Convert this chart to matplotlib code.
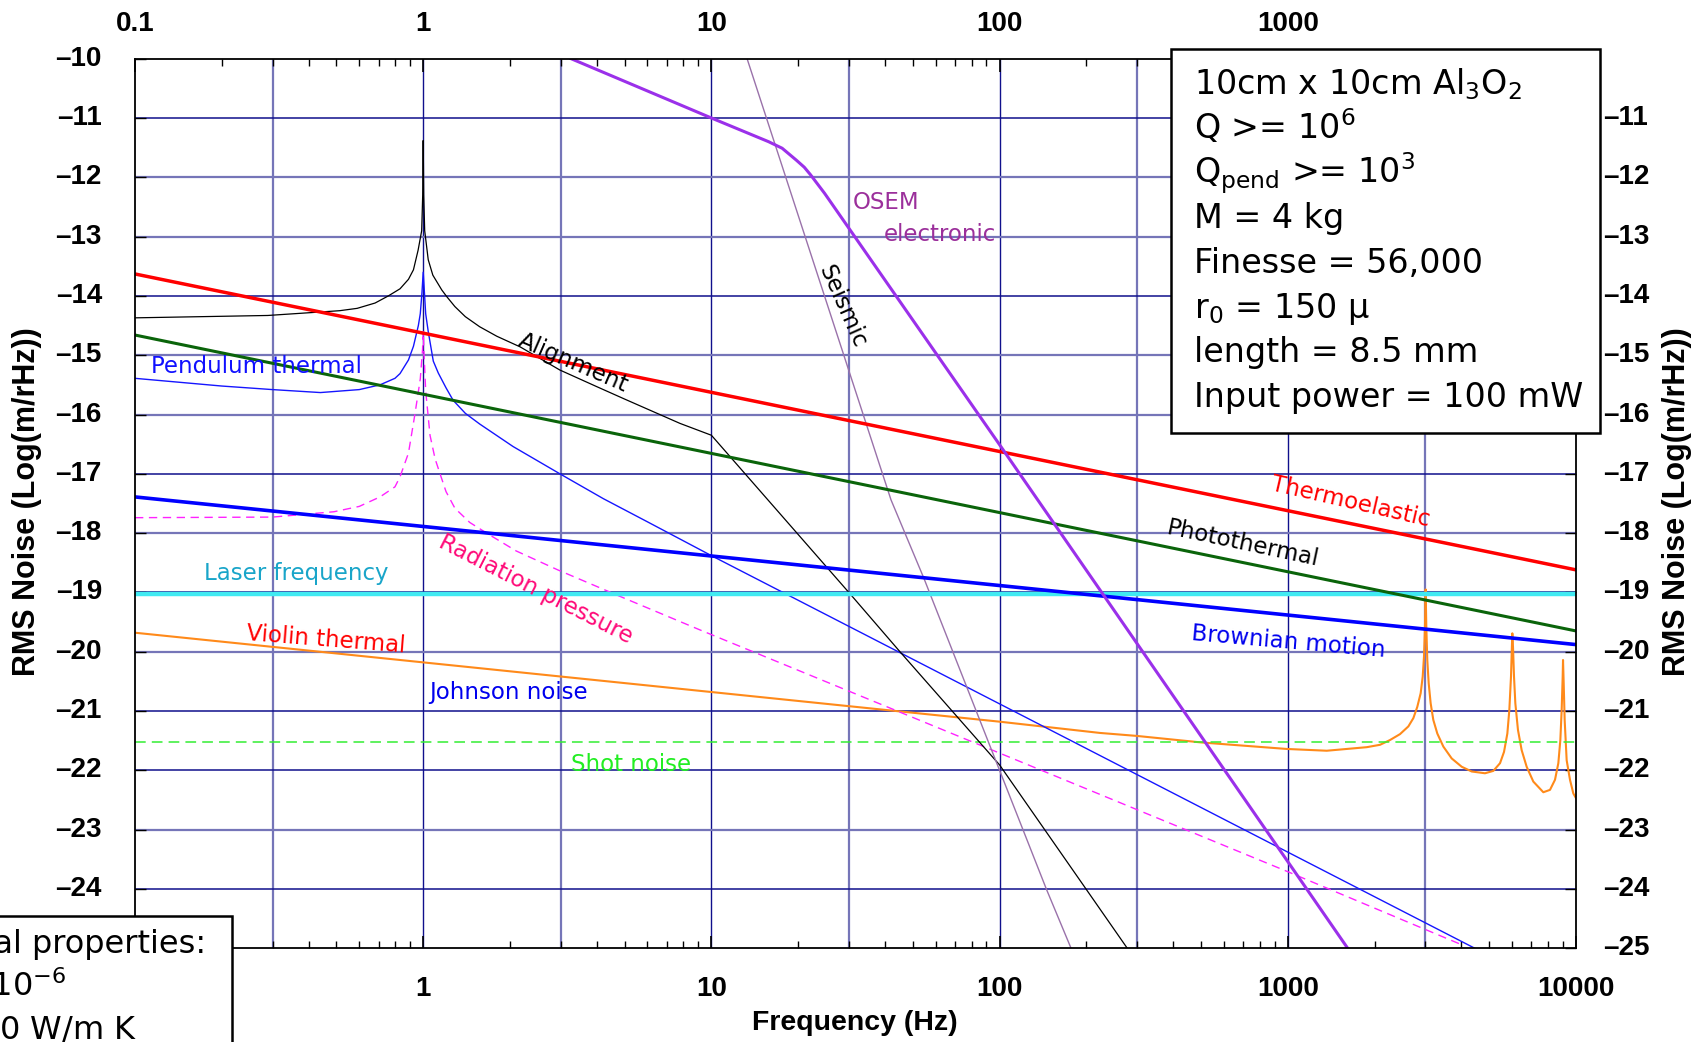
import numpy as np
import matplotlib.pyplot as plt
import matplotlib.transforms as mtrans
from matplotlib.patches import Rectangle
from matplotlib.ticker import LogLocator, NullFormatter

W, H = 1705, 1042

def fpos(x, y):
    # pixel position (from top left) -> figure fraction
    return x / W, 1 - y / H

# straight terms, end points (Hz, log10 m/rHz)
thermo_f = [0.1, 10000]
thermo_y = [-13.63, -18.62]
photo_f = [0.1, 10000]
photo_y = [-14.66, -19.65]
brown_f = [0.1, 10000]
brown_y = [-17.39, -19.88]
laser_f = [0.1, 10000]
laser_y = [-19.03, -19.03]
shot_f = [0.1, 10000]
shot_y = [-21.52, -21.52]

pend_f = [0.1, 0.2, 0.3, 0.44, 0.6, 0.708, 0.798, 0.831, 0.889, 0.925, 0.962, 0.977, 0.99, 1.0,
          1.01, 1.02, 1.041, 1.084, 1.128, 1.2, 1.27, 1.4, 1.57, 2.05, 2.98, 4.22, 6, 10, 100,
          1000, 4450]
pend_y = [-15.39, -15.52, -15.58, -15.63, -15.58, -15.5, -15.39, -15.31, -15.08, -14.85, -14.5,
          -14.3, -13.95, -13.6, -13.95, -14.3, -14.6, -15.1, -15.3, -15.55, -15.76, -15.98,
          -16.16, -16.54, -17.0, -17.42, -17.81, -18.38, -20.88, -23.38, -25.0]

rad_f = [0.1, 0.3, 0.49, 0.6, 0.708, 0.798, 0.831, 0.889, 0.937, 0.977, 0.995, 1.0, 1.005, 1.02,
         1.056, 1.1, 1.144, 1.2, 1.288, 1.45, 1.66, 2.1, 2.93, 5, 9.1, 100, 1000, 4050]
rad_y = [-17.74, -17.73, -17.64, -17.55, -17.39, -17.22, -17.05, -16.65, -15.98, -15.4, -14.9,
         -14.6, -14.9, -15.6, -16.35, -16.75, -17.0, -17.3, -17.58, -17.82, -18.0, -18.3, -18.62,
         -19.1, -19.63, -21.71, -23.71, -24.95]

align_f = [0.1, 0.289, 0.512, 0.59, 0.681, 0.757, 0.831, 0.889, 0.925, 0.96, 0.988, 0.996, 1.0,
           1.004, 1.012, 1.041, 1.08, 1.16, 1.206, 1.288, 1.4, 1.57, 1.8, 2.17, 2.98, 4, 5,
           7.78, 10, 30.1, 45.1, 100, 200, 280]
align_y = [-14.37, -14.33, -14.25, -14.21, -14.12, -14.0, -13.88, -13.72, -13.56, -13.23, -12.9,
           -12.3, -11.38, -12.3, -12.9, -13.39, -13.65, -13.9, -14.01, -14.18, -14.35, -14.52,
           -14.68, -14.86, -15.25, -15.53, -15.74, -16.15, -16.35, -19.01, -20.0, -21.91,
           -24.01, -25.03]

seis_f = [13.3, 42, 54.7, 145.5, 178]
seis_y = [-10.0, -17.44, -18.77, -24.01, -25.03]

osem_f = [3.26, 10, 15.8, 17.6, 19.7, 21, 22.1, 24.7, 100, 1629]
osem_y = [-10.0, -11.0, -11.4, -11.51, -11.71, -11.83, -11.96, -12.27, -16.51, -25.03]

violin_f = [0.1, 100, 223, 299, 500, 991, 1365, 1880, 2089, 2262, 2451, 2620, 2727, 2814, 2891,
            2938, 2969, 2992, 3008, 3024, 3048, 3082, 3131, 3198, 3302, 3465, 3704, 4012, 4345,
            4833, 5166, 5450, 5626, 5778, 5871, 5949, 5997, 6013, 6045, 6094, 6159, 6290, 6478,
            6742, 7110, 7702, 8124, 8455, 8684, 8824, 8918, 8990, 9015, 9063, 9134, 9281, 9531,
            9788, 10000]
violin_y = [-19.68, -21.18, -21.37, -21.42, -21.53, -21.64, -21.67, -21.61, -21.57, -21.49,
            -21.39, -21.26, -21.12, -20.93, -20.70, -20.42, -20.08, -19.58, -18.95, -19.58,
            -20.14, -20.53, -20.87, -21.15, -21.38, -21.60, -21.80, -21.94, -22.02, -22.05,
            -22.01, -21.88, -21.69, -21.38, -20.98, -20.42, -19.86, -19.69, -19.92, -20.42,
            -20.87, -21.32, -21.66, -21.94, -22.19, -22.37, -22.33, -22.16, -21.88, -21.49,
            -20.98, -20.42, -20.14, -20.53, -21.15, -21.83, -22.16, -22.39, -22.47]

# curve labels: text, f, y, rotation, colour
labels = [
    ("Pendulum thermal", 0.264, -15.19, 0, "#1010ff"),
    ("Alignment", 3.32, -15.13, -23.5, "black"),
    ("Seismic", 28.4, -14.18, -66, "black"),
    ("OSEM", 40.4, -12.42, 0, "#9b2f9b"),
    ("electronic", 62.1, -12.97, 0, "#9b2f9b"),
    ("Thermoelastic", 1652, -17.48, -13, "#ff0000"),
    ("Photothermal", 698, -18.18, -12, "black"),
    ("Brownian motion", 1007, -19.83, -5, "#0000ee"),
    ("Laser frequency", 0.362, -18.68, 0, "#19a5c9"),
    ("Radiation pressure", 2.455, -18.95, -27, "#ff0a78"),
    ("Violin thermal", 0.46, -19.80, -4.5, "#ff0000"),
    ("Johnson noise", 1.98, -20.69, 0, "#0000ee"),
    ("Shot noise", 5.25, -21.9, 0, "#22ee22"),
]

top_ticks = [0.1, 1, 10, 100, 1000]
bottom_ticks = [1, 10, 100, 1000, 10000]
left_ticks = list(range(-24, -9))
right_ticks = list(range(-25, -10))

box_lines = [
    r"10cm x 10cm Al$_3$O$_2$",
    r"Q >= 10$^6$",
    r"Q$_\mathrm{pend}$ >= 10$^3$",
    "M = 4 kg",
    "Finesse = 56,000",
    "r$_0$ = 150 \u03bc",
    "length = 8.5 mm",
    "Input power = 100 mW",
]
props_lines = ["Thermal properties:", r"$\alpha$ = 5 x 10$^{-6}$", r"$\kappa$ = 40 W/m K"]

plt.rcParams['font.family'] = 'DejaVu Sans'
plt.rcParams['mathtext.fontset'] = 'dejavusans'

fig = plt.figure(figsize=(W / 100, H / 100), dpi=100)
ax = fig.add_axes([135 / W, 1 - 948.2 / H, (1576 - 135) / W, (948.2 - 58.7) / H])
ax.set_xscale('log')
ax.set_xlim(0.1, 10000)
ax.set_ylim(-25, -10)

# grid
navy = '#10108c'
slate = '#7575b8'
for f in [0.3, 3, 30, 300, 3000]:
    ax.axvline(f, color=slate, lw=1.6, zorder=1)
for f in [1, 10, 100, 1000]:
    ax.axvline(f, color=navy, lw=1.0, zorder=1)
navy_rows = [-11, -14, -17, -19, -21, -22, -24]
for y in range(-24, -10):
    if y in navy_rows:
        ax.axhline(y, color=navy, lw=1.1, zorder=1)
    else:
        ax.axhline(y, color=slate, lw=1.6, zorder=1)

ax.plot(violin_f, violin_y, color='#ff8a1a', lw=1.5, zorder=3)
ax.plot(shot_f, shot_y, color='#33ee33', lw=1.1, dashes=(7, 4), zorder=3)
ax.plot(rad_f, rad_y, color='#ff22ff', lw=1.0, dashes=(6, 4), zorder=3)
ax.plot(pend_f, pend_y, color='#1515ff', lw=1.0, zorder=3)
ax.plot(align_f, align_y, color='black', lw=0.9, zorder=3)
ax.plot(seis_f, seis_y, color='#9a72aa', lw=1.0, zorder=3)
ax.plot(laser_f, laser_y, color='#40eaf2', lw=3.2, zorder=4)
ax.plot(brown_f, brown_y, color='#0000ff', lw=2.6, zorder=4)
ax.plot(photo_f, photo_y, color='#0a640a', lw=2.2, zorder=4)
ax.plot(thermo_f, thermo_y, color='#ff0000', lw=2.5, zorder=4)
ax.plot(osem_f, osem_y, color='#9b30ea', lw=2.2, zorder=4)

for txt, f, y, rot, col in labels:
    ax.text(f, y, txt, color=col, fontsize=16.5, rotation=rot, rotation_mode='anchor',
            ha='center', va='center', zorder=5)

# ticks on all four sides, labels placed by hand
tick_font = dict(family='Liberation Sans', weight='bold', size=20)
ax.tick_params(axis='both', which='both', direction='in', top=True, right=True, color='black')
ax.tick_params(axis='x', which='major', length=9, width=1.2)
ax.tick_params(axis='x', which='minor', length=5, width=1.0)
ax.tick_params(axis='y', which='major', length=8, width=1.0)
ax.set_xticks(sorted(set(top_ticks + bottom_ticks)))
ax.set_xticklabels([])
ax.xaxis.set_minor_locator(LogLocator(base=10, subs=np.arange(2, 10)))
ax.xaxis.set_minor_formatter(NullFormatter())
ax.set_yticks(range(-25, -9))
ax.set_yticklabels([])

tr_x = ax.get_xaxis_transform()
tr_y = ax.get_yaxis_transform()

def shifted(tr, dx, dy):
    return tr + mtrans.ScaledTranslation(dx / 100, dy / 100, fig.dpi_scale_trans)

for f in top_ticks:
    ax.text(f, 1.0, '%g' % f, transform=shifted(tr_x, 0, 22), ha='center', va='bottom',
            fontdict=tick_font, clip_on=False)
for f in bottom_ticks:
    ax.text(f, 0.0, '%g' % f, transform=shifted(tr_x, 0, -28), ha='center', va='top',
            fontdict=tick_font, clip_on=False)
for t in left_ticks:
    ax.text(0.0, t, '\u2013%d' % abs(t), transform=shifted(tr_y, -33, 0), ha='right',
            va='center', fontdict=tick_font, clip_on=False)
for t in right_ticks:
    ax.text(1.0, t, '\u2013%d' % abs(t), transform=shifted(tr_y, 27, 0), ha='left',
            va='center', fontdict=tick_font, clip_on=False)

for s in ax.spines.values():
    s.set_color('black')
    s.set_linewidth(1.3)
    s.set_zorder(6)

lab_font = dict(family='Liberation Sans', weight='bold', size=22)
fig.text(*fpos(27, 502), 'RMS Noise (Log(m/rHz))', rotation=90, ha='center', va='center',
         fontdict=lab_font)
fig.text(*fpos(1677, 502), 'RMS Noise (Log(m/rHz))', rotation=90, ha='center', va='center',
         fontdict=lab_font)
fig.text(*fpos(855, 1023), 'Frequency (Hz)', ha='center', va='center',
         fontdict=dict(lab_font, size=20.5))

# parameter box, upper right
x0, y0 = fpos(1171, 433)
fig.patches.append(Rectangle((x0, y0), 429 / W, 384 / H, transform=fig.transFigure,
                             facecolor='white', edgecolor='black', lw=1.8, zorder=10))
for i, line in enumerate(box_lines):
    fig.text(*fpos(1194, 94 + 44.7 * i), line, fontsize=24, ha='left', va='baseline', zorder=11)

# material box, lower left (runs off the page)
x0, y0 = fpos(-20, 1060)
fig.patches.append(Rectangle((x0, y0), 252 / W, 144 / H, transform=fig.transFigure,
                             facecolor='white', edgecolor='black', lw=1.8, zorder=10))
for line, xr, yb in zip(props_lines, [206, 66, 137], [953, 996, 1038]):
    fig.text(*fpos(xr, yb), line, fontsize=23, ha='right', va='baseline', zorder=11)

fig.savefig('out.png', dpi=100)
